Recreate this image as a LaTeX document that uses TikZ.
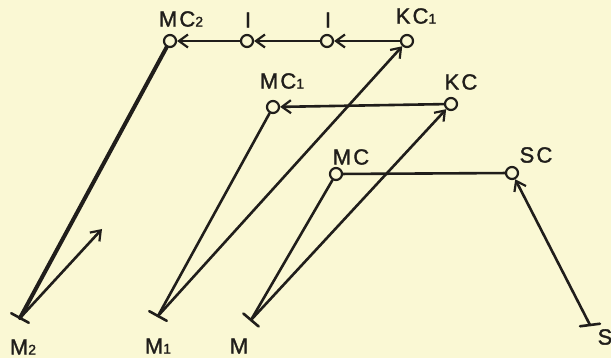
\documentclass[tikz,border=0pt]{standalone}
\usepackage{fontspec}
\setmainfont{Liberation Sans}
\newfontfamily\labfont[LetterSpace=10,FakeBold=1.5]{Liberation Sans}
\usetikzlibrary{arrows.meta,calc}
\definecolor{paper}{RGB}{250,248,212}
\definecolor{ink}{RGB}{32,30,27}
\tikzset{
  ln/.style={draw=ink,line width=2.6pt,line cap=round},
  heavy/.style={draw=ink,line width=4pt,line cap=round},
  arr/.style={-{Straight Barb[length=9pt,width=13pt,line width=2.2pt]}},
  ring/.style={circle,draw=ink,line width=2.2pt,minimum size=12pt,inner sep=0pt},
  lab/.style={text=ink,font=\labfont\fontsize{22}{22}\selectfont,inner sep=0pt},
}
\newcommand{\sbs}[1]{{\fontsize{14}{14}\selectfont #1}}
\begin{document}
\begin{tikzpicture}[x=1pt,y=-1pt]
\useasboundingbox[fill=paper] (0,0) rectangle (611,358);
% ring nodes
\node[ring] (mc2) at (170,41) {};
\node[ring] (i1) at (247,41) {};
\node[ring] (i2) at (327,41) {};
\node[ring] (kc1) at (407,41) {};
\node[ring] (mc1) at (273,107) {};
\node[ring] (kc) at (451,104) {};
\node[ring] (mc) at (336,174) {};
\node[ring] (sc) at (512,173) {};
% end points
\coordinate (m2) at (20,318);
\coordinate (m1) at (158,316);
\coordinate (m) at (251,320);
\coordinate (s) at (590,325);
\coordinate (a2) at (102,229);
% labels
\node[lab] (lmc2) at (181,19) {MC\sbs{2}};
\node[lab] (li1) at (248,20) {I};
\node[lab] (li2) at (328,20) {I};
\node[lab] (lkc1) at (416,16) {KC\sbs{1}};
\node[lab] (lmc1) at (282,81) {MC\sbs{1}};
\node[lab] (lkc) at (461,82) {KC};
\node[lab] (lmc) at (351,157) {MC};
\node[lab] (lsc) at (536,155) {SC};
\node[lab] (lm2) at (23,347) {M\sbs{2}};
\node[lab] (lm1) at (158,346) {M\sbs{1}};
\node[lab] (lm) at (239,346) {M};
\node[lab] (ls) at (605,337) {S};
% horizontal connectors
\draw[ln,arr] (kc1) -- (i2);
\draw[ln,arr] (i2) -- (i1);
\draw[ln,arr] (i1) -- (mc2);
\draw[ln,arr] (kc) -- (mc1);
\draw[ln] (mc) -- (sc);
% slanted connectors
\draw[heavy] (m2) -- (mc2);
\draw[ln,arr] (m2) -- (a2);
\draw[ln] (m1) -- (mc1);
\draw[ln,arr] (m1) -- (kc1);
\draw[ln] (m) -- (mc);
\draw[ln,arr] (m) -- (kc);
\draw[ln,arr] (s) -- (sc);
% ticks
\draw[ln] ($(m2)!10pt!90:(mc2)$) -- ($(m2)!10pt!-90:(mc2)$);
\draw[ln] ($(m1)!10pt!90:(mc1)$) -- ($(m1)!10pt!-90:(mc1)$);
\draw[ln] ($(m)!10pt!80:(mc)$) -- ($(m)!10pt!-100:(mc)$);
\draw[ln] ($(s)!10pt!70:(sc)$) -- ($(s)!10pt!-110:(sc)$);
\end{tikzpicture}
\end{document}
